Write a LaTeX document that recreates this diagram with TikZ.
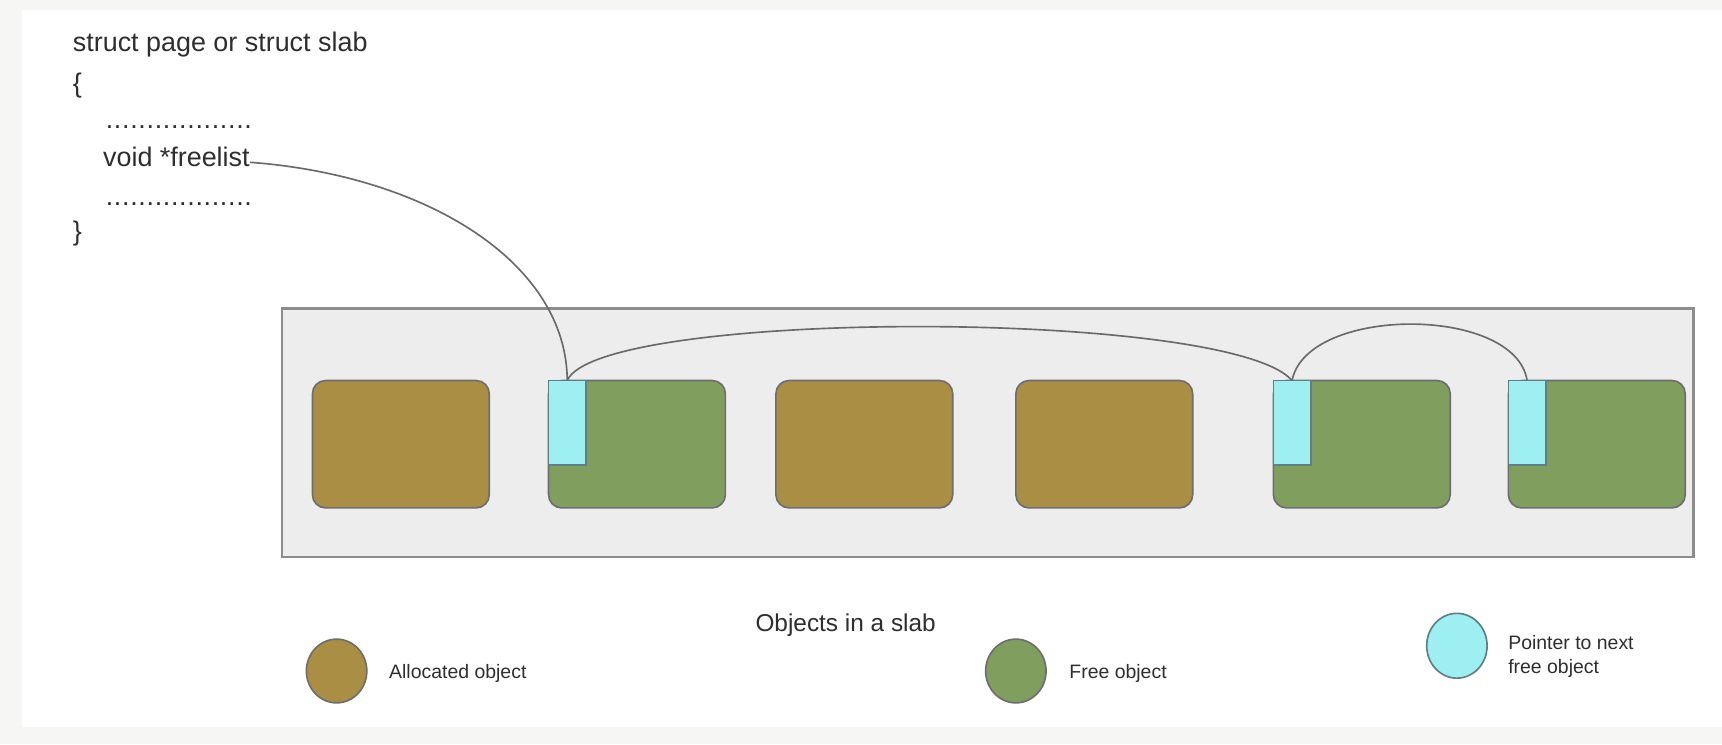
\documentclass[tikz,border=0pt]{standalone}
\usepackage{fontspec}
\setmainfont{Liberation Sans}
\usetikzlibrary{shapes.geometric,positioning}

\definecolor{bggray}{HTML}{F6F6F4}
\definecolor{slabfill}{HTML}{EDEDED}
\definecolor{slabline}{HTML}{8C8C8C}
\definecolor{allocbrown}{HTML}{AA8E43}
\definecolor{freegreen}{HTML}{809F5F}
\definecolor{ptrcyan}{HTML}{9DEFF2}
\definecolor{objline}{HTML}{6E6E6E}
\definecolor{ptrline}{HTML}{5F7F86}
\definecolor{linkline}{HTML}{6A6A6A}
\definecolor{txt}{HTML}{2E2E2E}

\begin{document}
\begin{tikzpicture}[x=0.5pt, y=-0.5pt,
    codetext/.style={anchor=base west, inner sep=0pt, text=txt, font=\fontsize{12.25}{14}\selectfont},
    dotrow/.style={codetext, font=\fontsize{12.25}{14}\selectfont\addfontfeature{LetterSpace=2.5}},
    legtext/.style={anchor=base west, inner sep=0pt, text=txt, font=\fontsize{8.85}{11}\selectfont},
    obj/.style={draw=objline, line width=0.75pt, rounded corners=6pt, minimum width=80.5pt, minimum height=58pt, inner sep=0pt, outer sep=0pt},
    allocobj/.style={obj, fill=allocbrown},
    freeobj/.style={obj, fill=freegreen},
    ptrbox/.style={draw=ptrline, line width=0.75pt, fill=ptrcyan, minimum width=17pt, minimum height=38.5pt, inner sep=0pt, outer sep=0pt, anchor=north west},
    legdot/.style={ellipse, draw=objline, line width=0.75pt, minimum width=27.5pt, minimum height=29pt, inner sep=0pt},
    link/.style={draw=linkline, line width=0.75pt}]

            % Page and panel
            \fill[bggray] (0,0) rectangle (1568,677.6);
            \fill[white] (20,9) rectangle (1568,662);
            \useasboundingbox (0,0) rectangle (1568,677.6);

            % Struct definition
            \node[codetext] (hdr) at (66,47) {struct page or struct slab};
            \node[codetext] (lbrace) at (66,84) {\{};
            \node[dotrow] (dots1) at (96,117) {..................};
            \node[codetext] (fl) at (93.5,151.8) {void *freelist};
            \node[dotrow] (dots2) at (96,187.5) {..................};
            \node[codetext] (rbrace) at (66,219) {\}};

            % Slab with its objects
            \draw[slabline, fill=slabfill, line width=1pt] (257,281) rectangle (1542,507);
            \node[allocobj] (o1) at (365,404.5) {};
            \node[freeobj] (o2) at (580,404.5) {};
            \node[allocobj] (o3) at (787,404.5) {};
            \node[allocobj] (o4) at (1005.5,404.5) {};
            \node[freeobj] (o5) at (1240,404.5) {};
            \node[freeobj] (o6) at (1454,404.5) {};

            % Pointers kept inside the free objects
            \node[ptrbox] (p2) at (o2.north west) {};
            \node[ptrbox] (p5) at (o5.north west) {};
            \node[ptrbox] (p6) at (o6.north west) {};

            % Free list
            \draw[link] ([yshift=2pt]fl.base east) .. controls (390,160) and (516,240) .. (p2.north);
            \draw[link] (p2.north) .. controls (545,281) and (1120,281) .. (p5.north);
            \draw[link] (p5.north) .. controls (1190,278) and (1380,278) .. (p6.north);

            % Legend
            \node[legtext, font=\fontsize{11.1}{13}\selectfont, anchor=base] (title) at (770,575) {Objects in a slab};
            \node[legdot, fill=allocbrown] (legalloc) at (306.5,611) {};
            \node[legtext] (legalloctxt) at (354,617.8) {Allocated object};
            \node[legdot, fill=freegreen] (legfree) at (925,611) {};
            \node[legtext] (legfreetxt) at (973.4,617.8) {Free object};
            \node[legdot, fill=ptrcyan, draw=ptrline, minimum width=27.5pt, minimum height=29.5pt] (legptr) at (1326.6,588) {};
            \node[legtext, align=left] (legptrtxt) at (1373,613) {Pointer to next\\free object};
      \end{tikzpicture}
\end{document}
